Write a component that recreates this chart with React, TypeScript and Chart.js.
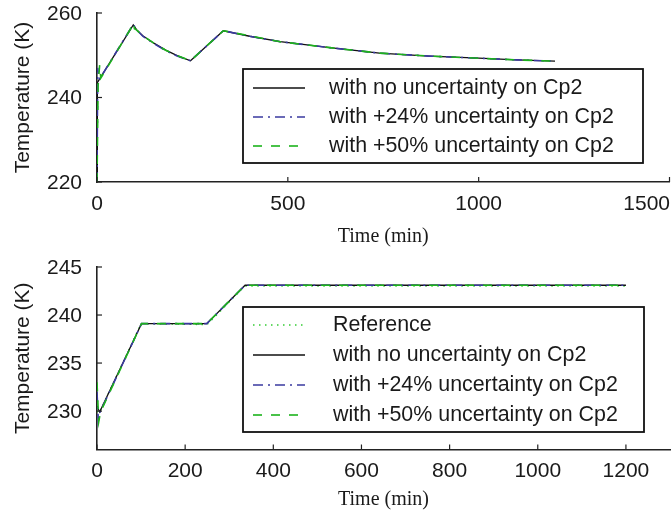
import React, { useEffect, useRef } from "react";
import { Chart, registerables } from "chart.js";
Chart.register(...registerables);

// ---------- Top panel data ----------
const topXTicks = [0, 500, 1000, 1500];
const topYTicks = [220, 240, 260];

const topTimeNoUnc = [0, 1, 5, 95, 104, 120, 150, 180, 210, 245, 331, 400, 480, 610, 740, 870, 1000, 1100, 1200];
const topTempNoUnc = [220, 243.5, 244.1, 257.2, 256.0, 254.6, 252.8, 251.2, 249.9, 248.7, 255.8, 254.5, 253.2, 251.8, 250.5, 249.8, 249.3, 248.9, 248.6];

const topTime24 = [0, 2, 4, 7, 95, 104, 120, 150, 180, 210, 245, 331, 400, 480, 610, 740, 870, 1000, 1100, 1200];
const topTemp24 = [220, 247.0, 244.5, 244.4, 257.3, 256.0, 254.5, 252.7, 251.1, 249.8, 248.7, 255.8, 254.5, 253.2, 251.8, 250.5, 249.8, 249.3, 248.9, 248.6];

const topTime50 = [0, 3, 7, 10, 93, 96, 98, 102, 120, 150, 180, 210, 245, 331, 400, 480, 610, 740, 870, 1000, 1100, 1200];
const topTemp50 = [220, 243.0, 247.7, 244.6, 257.0, 257.7, 256.3, 256.1, 254.6, 252.8, 251.2, 249.9, 248.7, 255.8, 254.6, 253.2, 251.8, 250.5, 249.8, 249.3, 248.9, 248.6];

// ---------- Bottom panel data ----------
const botXTicks = [0, 200, 400, 600, 800, 1000, 1200];
const botYTicks = [230, 235, 240, 245];

const botTimeRef = [0, 5, 100, 250, 335, 1200];
const botTempRef = [230.0, 229.8, 239.1, 239.0, 243.0, 243.0];

const botTimeNoUnc = [0, 6, 101, 249, 336, 1200];
const botTempNoUnc = [230.5, 229.9, 239.1, 239.1, 243.1, 243.1];

const botTime24 = [0, 3, 6, 101, 249, 336, 1200];
const botTemp24 = [232.0, 229.0, 229.8, 239.1, 239.1, 243.1, 243.1];

const botTime50 = [0, 4, 8, 101, 249, 336, 1200];
const botTemp50 = [233.0, 228.9, 229.9, 239.1, 239.1, 243.1, 243.1];

const labelRef = "Reference";
const labelNoUnc = "with no uncertainty on Cp2";
const label24 = "with +24% uncertainty on Cp2";
const label50 = "with +50% uncertainty on Cp2";

const SANS = '"Liberation Sans", Arial, sans-serif';
const SERIF = '"Liberation Serif", "Times New Roman", serif';

const STYLE_REF = { color: "#33cc33", dash: [1.5, 4.5], width: 1.3 };
const STYLE_NO = { color: "#111111", dash: [] as number[], width: 1.3 };
const STYLE_24 = { color: "#3a3aa0", dash: [10, 5, 2, 5], width: 1.6 };
const STYLE_50 = { color: "#1db31d", dash: [9, 9], width: 1.6 };

const W = 671;
const H1 = 255;
const H2 = 260;

type Entry = { label: string; style: { color: string; dash: number[]; width: number } };

function series(t: number[], v: number[]) {
  return t.map((x, i) => ({ x, y: v[i] }));
}

function ds(label: string, t: number[], v: number[], st: any, order: number) {
  return {
    label,
    data: series(t, v),
    borderColor: st.color,
    borderDash: st.dash,
    borderWidth: st.width,
    pointRadius: 0,
    tension: 0,
    fill: false,
    order,
  };
}

function makeFrame(cfg: {
  xTicks: number[];
  yTicks: number[];
  legend: { x0: number; y0: number; x1: number; y1: number; rows: number[]; textX: number; entries: Entry[] };
  xTitleOffset: number;
}) {
  return {
    id: "frame",
    afterDraw(chart: any) {
      const ctx = chart.ctx as CanvasRenderingContext2D;
      const xs = chart.scales.x;
      const ys = chart.scales.y;
      const a = chart.chartArea;
      ctx.save();
      // inward ticks
      ctx.strokeStyle = "#222";
      ctx.lineWidth = 1.2;
      ctx.setLineDash([]);
      cfg.xTicks.forEach((v) => {
        const px = xs.getPixelForValue(v);
        ctx.beginPath();
        ctx.moveTo(px, a.bottom);
        ctx.lineTo(px, a.bottom - 5);
        ctx.stroke();
      });
      cfg.yTicks.forEach((v) => {
        const py = ys.getPixelForValue(v);
        ctx.beginPath();
        ctx.moveTo(a.left, py);
        ctx.lineTo(a.left + 5, py);
        ctx.stroke();
      });
      // tick labels
      ctx.fillStyle = "#1a1a1a";
      ctx.font = `21px ${SANS}`;
      ctx.textBaseline = "middle";
      ctx.textAlign = "center";
      cfg.xTicks.forEach((v) => {
        const s = String(v);
        const w = ctx.measureText(s).width;
        let px = xs.getPixelForValue(v);
        px = Math.min(px, W - 1 - w / 2);
        ctx.fillText(s, px, a.bottom + 22);
      });
      ctx.textAlign = "right";
      cfg.yTicks.forEach((v) => {
        ctx.fillText(String(v), a.left - 15, ys.getPixelForValue(v) + 1);
      });
      // axis titles
      ctx.save();
      ctx.translate(23, (a.top + a.bottom) / 2);
      ctx.rotate(-Math.PI / 2);
      ctx.textAlign = "center";
      ctx.textBaseline = "middle";
      ctx.font = `21px ${SANS}`;
      ctx.fillText("Temperature (K)", 0, 0);
      ctx.restore();
      ctx.font = `20px ${SERIF}`;
      ctx.textAlign = "center";
      ctx.textBaseline = "middle";
      ctx.fillText("Time (min)", (a.left + a.right) / 2, a.bottom + cfg.xTitleOffset);
      // legend
      const L = cfg.legend;
      ctx.fillStyle = "#ffffff";
      ctx.fillRect(L.x0, L.y0, L.x1 - L.x0, L.y1 - L.y0);
      ctx.strokeStyle = "#111";
      ctx.lineWidth = 1.8;
      ctx.strokeRect(L.x0, L.y0, L.x1 - L.x0, L.y1 - L.y0);
      L.entries.forEach((e, i) => {
        const y = L.rows[i];
        ctx.strokeStyle = e.style.color;
        ctx.lineWidth = e.style.width;
        ctx.setLineDash(e.style.dash);
        ctx.beginPath();
        ctx.moveTo(L.x0 + 10, y);
        ctx.lineTo(L.x0 + 62, y);
        ctx.stroke();
        ctx.setLineDash([]);
        ctx.fillStyle = "#1a1a1a";
        ctx.font = `21.4px ${SANS}`;
        ctx.textAlign = "left";
        ctx.textBaseline = "middle";
        ctx.fillText(e.label, L.textX, y);
      });
      ctx.restore();
    },
  };
}

function baseScales(xMin: number, xMax: number, yMin: number, yMax: number, xHeight: number, yWidth: number) {
  const common = {
    grid: { display: false },
    ticks: { display: false },
    border: { display: true, color: "#222", width: 1.6 },
  };
  return {
    x: {
      type: "linear",
      min: xMin,
      max: xMax,
      ...common,
      afterFit: (s: any) => {
        s.height = xHeight;
      },
    },
    y: {
      type: "linear",
      min: yMin,
      max: yMax,
      ...common,
      afterFit: (s: any) => {
        s.width = yWidth;
      },
    },
  };
}

export default function App() {
  const topRef = useRef<HTMLCanvasElement>(null);
  const botRef = useRef<HTMLCanvasElement>(null);

  useEffect(() => {
    const top = new Chart(topRef.current as HTMLCanvasElement, {
      type: "line",
      data: {
        datasets: [
          ds(label50, topTime50, topTemp50, STYLE_50, 0),
          ds(label24, topTime24, topTemp24, STYLE_24, 1),
          ds(labelNoUnc, topTimeNoUnc, topTempNoUnc, STYLE_NO, 2),
        ],
      },
      options: {
        responsive: false,
        animation: false,
        devicePixelRatio: 1,
        layout: { padding: { top: 13, left: 0, right: 1.5, bottom: 0 } },
        plugins: { legend: { display: false }, tooltip: { enabled: false } },
        scales: baseScales(0, 1500, 220, 260, H1 - 182, 97) as any,
      },
      plugins: [
        makeFrame({
          xTicks: topXTicks,
          yTicks: topYTicks,
          xTitleOffset: 55,
          legend: {
            x0: 243,
            y0: 69,
            x1: 643,
            y1: 163,
            rows: [88, 117, 146],
            textX: 329,
            entries: [
              { label: labelNoUnc, style: STYLE_NO },
              { label: label24, style: STYLE_24 },
              { label: label50, style: STYLE_50 },
            ],
          },
        }),
      ],
    } as any);

    const bot = new Chart(botRef.current as HTMLCanvasElement, {
      type: "line",
      data: {
        datasets: [
          ds(label50, botTime50, botTemp50, STYLE_50, 0),
          ds(label24, botTime24, botTemp24, STYLE_24, 1),
          ds(labelNoUnc, botTimeNoUnc, botTempNoUnc, STYLE_NO, 2),
          ds(labelRef, botTimeRef, botTempRef, STYLE_REF, 3),
        ],
      },
      options: {
        responsive: false,
        animation: false,
        devicePixelRatio: 1,
        layout: { padding: { top: 12, left: 0, right: 1, bottom: 0 } },
        plugins: { legend: { display: false }, tooltip: { enabled: false } },
        scales: baseScales(0, 1300, 226, 245, H2 - 194.5, 97) as any,
      },
      plugins: [
        makeFrame({
          xTicks: botXTicks,
          yTicks: botYTicks,
          xTitleOffset: 50,
          legend: {
            x0: 243,
            y0: 52,
            x1: 644,
            y1: 177,
            rows: [70, 100, 130, 160],
            textX: 333,
            entries: [
              { label: labelRef, style: STYLE_REF },
              { label: labelNoUnc, style: STYLE_NO },
              { label: label24, style: STYLE_24 },
              { label: label50, style: STYLE_50 },
            ],
          },
        }),
      ],
    } as any);

    return () => {
      top.destroy();
      bot.destroy();
    };
  }, []);

  return (
    <div style={{ position: "absolute", left: 0, top: 0, width: W, height: H1 + H2, background: "#fff" }}>
      <canvas ref={topRef} width={W} height={H1} style={{ position: "absolute", left: 0, top: 0, display: "block" }} />
      <canvas ref={botRef} width={W} height={H2} style={{ position: "absolute", left: 0, top: H1, display: "block" }} />
    </div>
  );
}
